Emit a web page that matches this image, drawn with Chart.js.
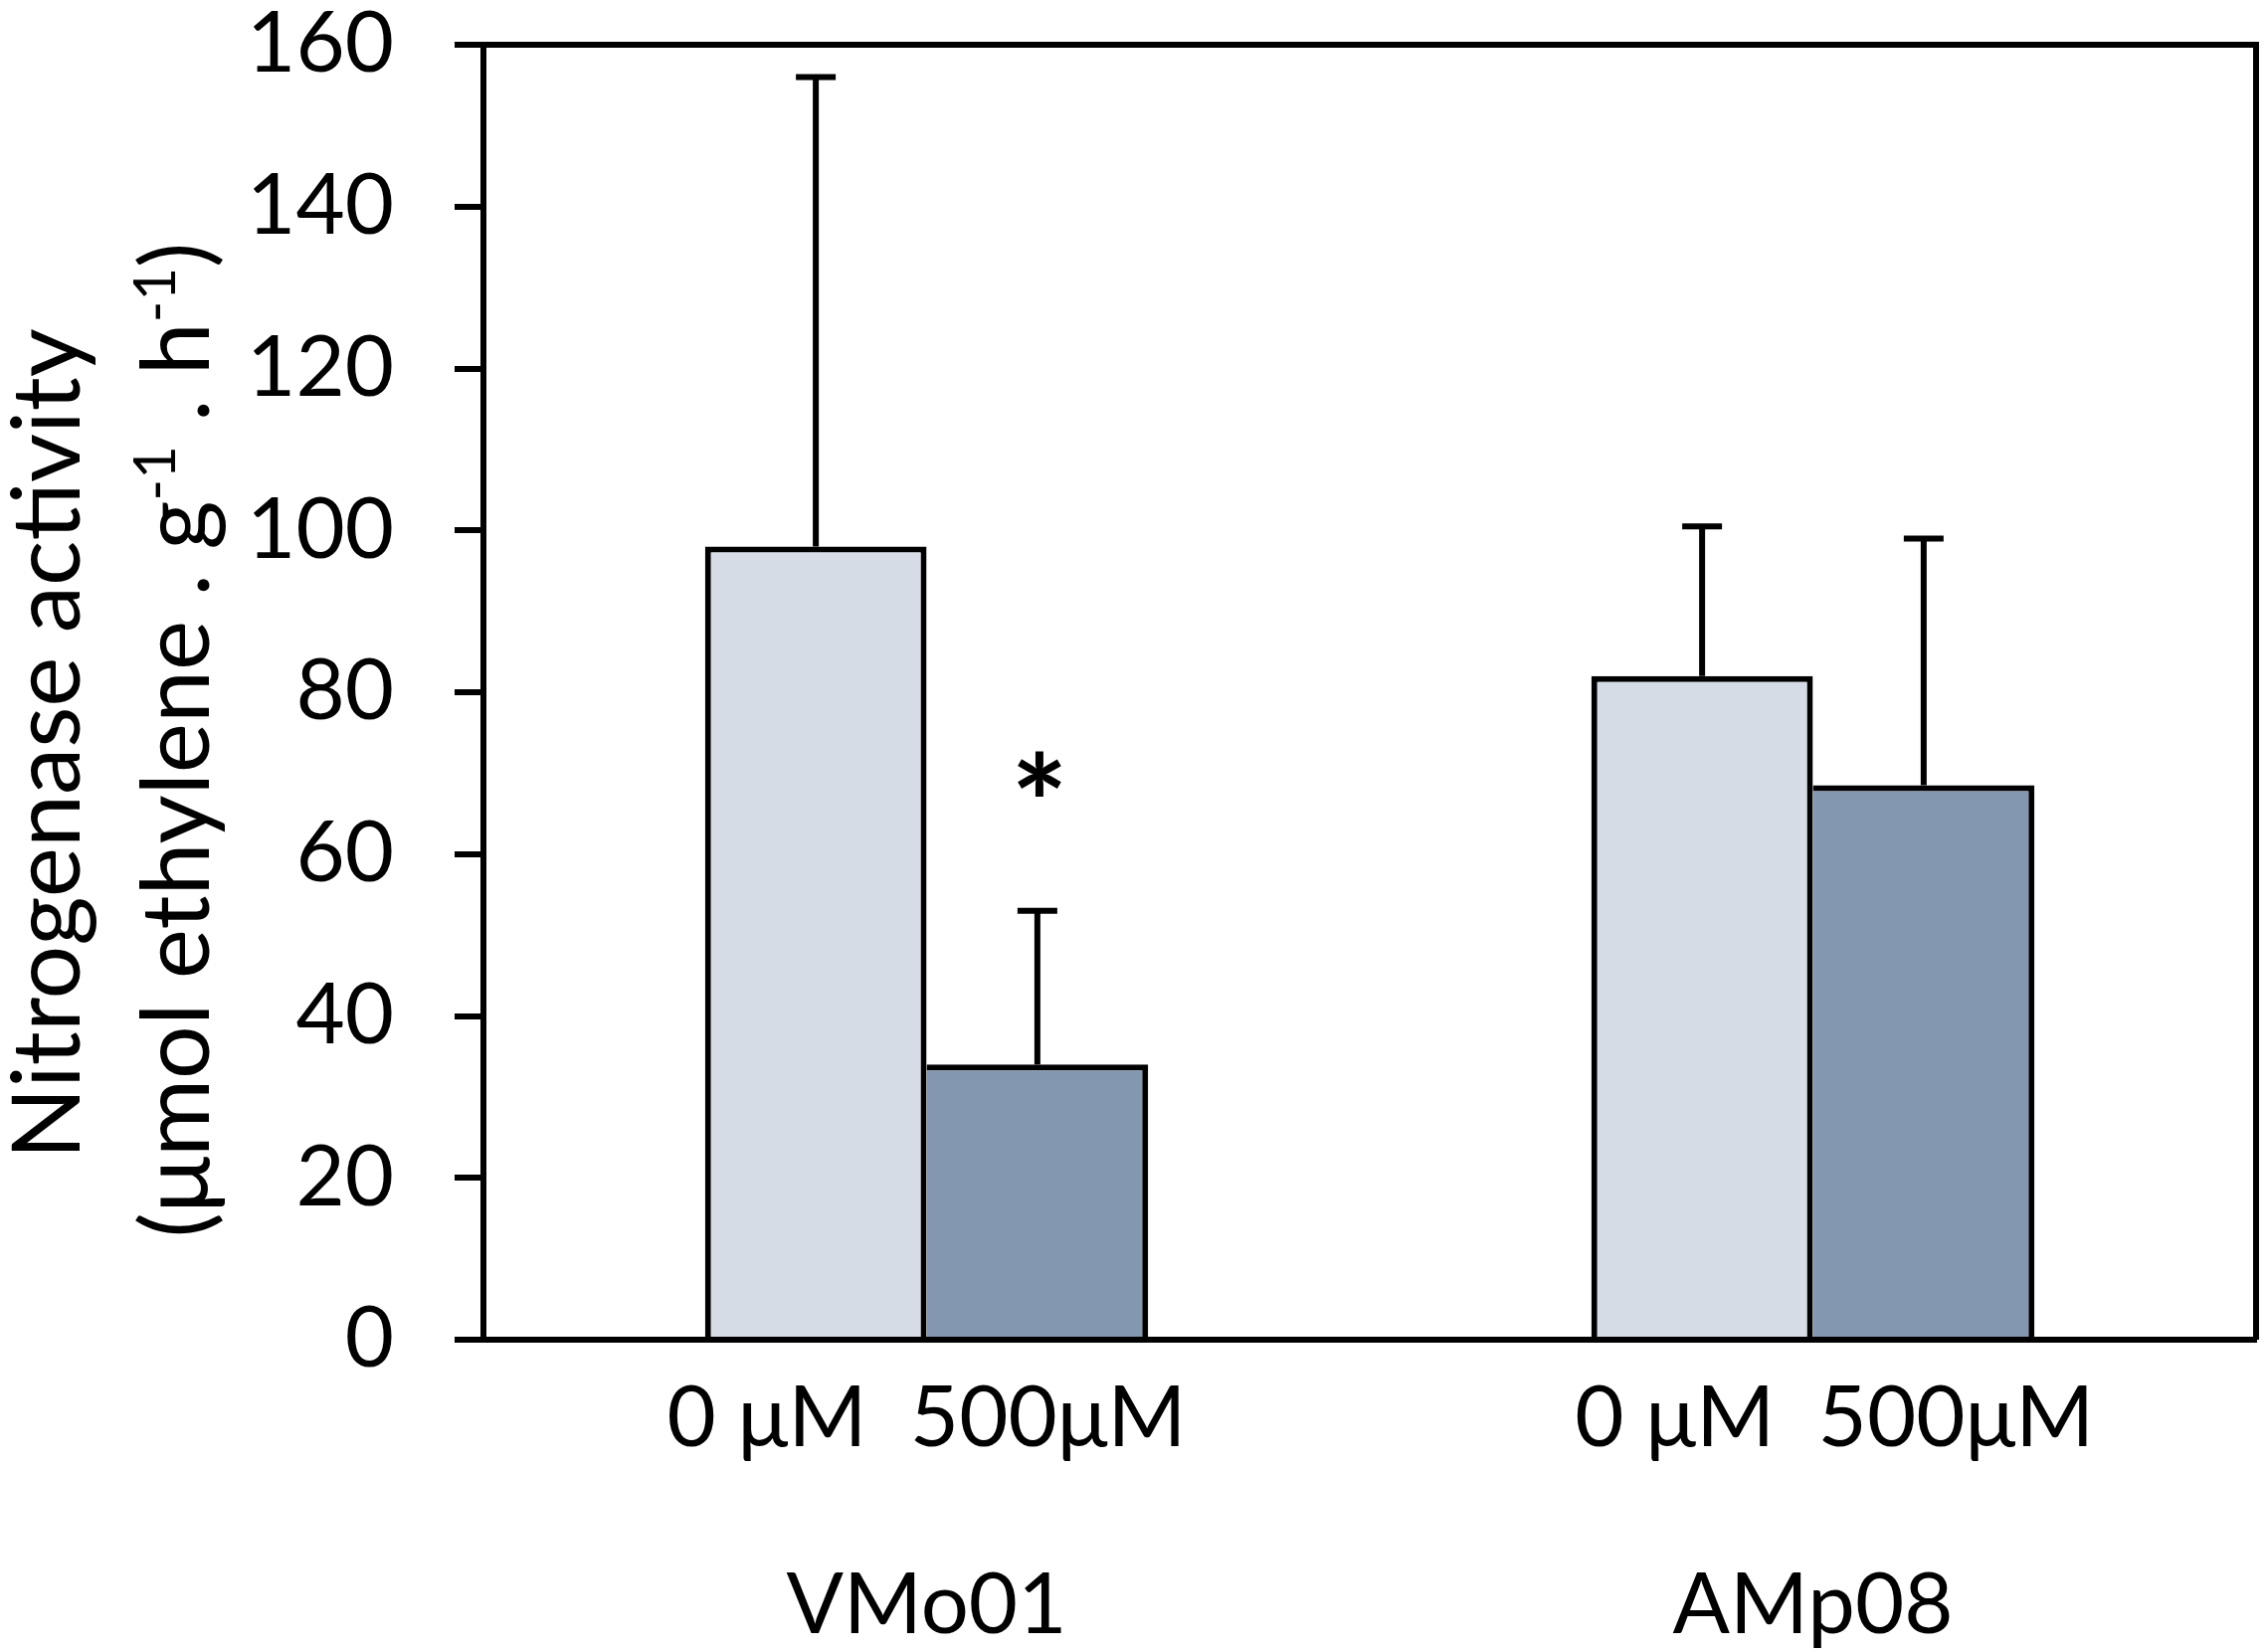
<!DOCTYPE html>
<html>
<head>
<meta charset="utf-8">
<script src="https://cdn.jsdelivr.net/npm/chart.js@4.4.1/dist/chart.umd.min.js"></script>
<style>
html,body{margin:0;padding:0;background:#ffffff;}
canvas{display:block;}
</style>
</head>
<body>
<canvas id="chart" width="2277" height="1661"></canvas>
<script>
// ---- data ----
const categories = ['VMo01', 'AMp08'];
const seriesNames = ['0 μM', '500μM'];
const subLabels = ['0 μM  500μM', '  0 μM  500μM'];
const values0 = [98, 82];
const values500 = [34, 68.5];
const errors0 = [58, 18.5];
const errors500 = [19, 30.5];
const marks0 = ['', ''];
const marks500 = ['*', ''];
const yTickValues = [0, 20, 40, 60, 80, 100, 120, 140, 160];
const yTitleLine1 = 'Nitrogenase activity';
const yTitleLine2 = [['(μmol ethylene . g', false], ['-1', true], [' . h', false], ['-1', true], [')', false]];

const FONT = 'Lato';
const INK = '#000000';
const LW = 6;

const xLabels = categories.map((c, i) => [subLabels[i], '', c]);

const errorBarsPlugin = {
  id: 'errorBars',
  afterDatasetsDraw(chart) {
    const ctx = chart.ctx;
    const y = chart.scales.y;
    const errs = [errors0, errors500];
    const marks = [marks0, marks500];
    ctx.save();
    ctx.strokeStyle = INK;
    ctx.lineWidth = LW;
    ctx.lineCap = 'butt';
    chart.data.datasets.forEach((ds, i) => {
      const meta = chart.getDatasetMeta(i);
      meta.data.forEach((bar, j) => {
        const top = y.getPixelForValue(ds.data[j] + errs[i][j]);
        ctx.beginPath();
        ctx.moveTo(bar.x, bar.y);
        ctx.lineTo(bar.x, top);
        ctx.moveTo(bar.x - 20, top);
        ctx.lineTo(bar.x + 20, top);
        ctx.stroke();
        const m = marks[i][j];
        if (m) {
          ctx.fillStyle = INK;
          ctx.font = 'bold 135px ' + FONT;
          ctx.textAlign = 'center';
          ctx.textBaseline = 'alphabetic';
          const mt = ctx.measureText(m);
          const h = mt.actualBoundingBoxAscent + mt.actualBoundingBoxDescent;
          const cy = top - 138;
          ctx.fillText(m, bar.x + 2, cy + h / 2 - mt.actualBoundingBoxDescent);
        }
      });
    });
    ctx.restore();
  }
};

const framePlugin = {
  id: 'frame',
  afterDraw(chart) {
    const {ctx, chartArea: a} = chart;
    ctx.save();
    ctx.strokeStyle = INK;
    ctx.lineWidth = LW;
    ctx.lineJoin = 'miter';
    ctx.beginPath();
    ctx.moveTo(a.left, a.top);
    ctx.lineTo(a.right, a.top);
    ctx.lineTo(a.right, a.bottom);
    ctx.stroke();
    ctx.restore();
  }
};

const yTitlePlugin = {
  id: 'yTitle',
  afterDraw(chart) {
    const ctx = chart.ctx;
    const size = 95;
    const supSize = 58;
    const cy = 748;
    ctx.save();
    ctx.fillStyle = INK;
    ctx.textBaseline = 'alphabetic';
    ctx.textAlign = 'left';
    ctx.save();
    ctx.translate(80, cy);
    ctx.rotate(-Math.PI / 2);
    ctx.font = size + 'px ' + FONT;
    const w1 = ctx.measureText(yTitleLine1).width;
    ctx.fillText(yTitleLine1, -w1 / 2, 0);
    ctx.restore();
    ctx.save();
    ctx.translate(210, cy - 4);
    ctx.rotate(-Math.PI / 2);
    let total = 0;
    yTitleLine2.forEach(([t, sup]) => {
      ctx.font = (sup ? supSize : size) + 'px ' + FONT;
      total += ctx.measureText(t).width;
    });
    let x = -total / 2;
    yTitleLine2.forEach(([t, sup]) => {
      ctx.font = (sup ? supSize : size) + 'px ' + FONT;
      ctx.fillText(t, x, sup ? -size * 0.36 : 0);
      x += ctx.measureText(t).width;
    });
    ctx.restore();
    ctx.restore();
  }
};

new Chart(document.getElementById('chart'), {
  type: 'bar',
  data: {
    labels: xLabels,
    datasets: [
      {
        label: seriesNames[0],
        data: values0,
        backgroundColor: '#D6DCE5',
        borderColor: INK,
        borderWidth: {top: LW, left: LW, right: LW, bottom: 0},
        borderSkipped: false,
        categoryPercentage: 0.5,
        barPercentage: 1.0
      },
      {
        label: seriesNames[1],
        data: values500,
        backgroundColor: '#8497B0',
        borderColor: INK,
        borderWidth: {top: LW, left: 0, right: LW, bottom: 0},
        borderSkipped: false,
        categoryPercentage: 0.5,
        barPercentage: 1.0
      }
    ]
  },
  options: {
    responsive: false,
    animation: false,
    devicePixelRatio: 1,
    layout: {padding: {top: 45, right: 9, left: 0, bottom: 0}},
    plugins: {
      legend: {display: false},
      tooltip: {enabled: false},
      title: {display: false}
    },
    scales: {
      x: {
        type: 'category',
        grid: {display: false, drawTicks: false},
        border: {display: true, color: INK, width: LW, z: 1},
        ticks: {
          color: INK,
          font: {family: FONT, size: 85, lineHeight: 1.11},
          padding: 32,
          maxRotation: 0,
          autoSkip: false
        },
        afterFit(scale) { scale.height = 314; scale.paddingLeft = 0; scale.paddingRight = 0; }
      },
      y: {
        min: 0,
        max: 160,
        afterBuildTicks(scale) { scale.ticks = yTickValues.map(v => ({value: v})); },
        grid: {display: true, drawOnChartArea: false, drawTicks: true, tickLength: 29, color: INK, lineWidth: LW},
        border: {display: true, color: INK, width: LW, z: 1},
        ticks: {
          color: INK,
          font: {family: FONT, size: 85, lineHeight: 1.0},
          padding: 61
        },
        afterFit(scale) { scale.width = 486; scale.paddingTop = 0; scale.paddingBottom = 0; }
      }
    }
  },
  plugins: [errorBarsPlugin, framePlugin, yTitlePlugin]
});
</script>
</body>
</html>
